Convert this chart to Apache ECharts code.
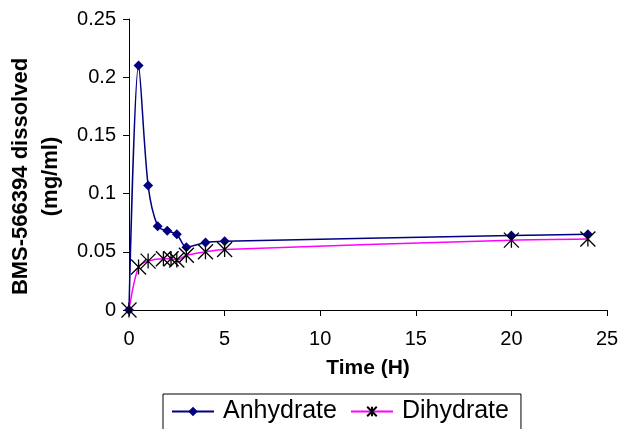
<!DOCTYPE html>
<html>
<head>
<meta charset="utf-8">
<script src="https://cdn.jsdelivr.net/npm/echarts@6/dist/echarts.min.js"></script>
<style>
  html, body { margin: 0; padding: 0; background: #fff; }
  #chart { width: 621px; height: 429px; }
</style>
</head>
<body>
<div id="chart"></div>
<script>
// values
const anhydrateTime = [0, 0.5, 1, 1.5, 2, 2.5, 3, 4, 5, 20, 24]
const anhydrateConc = [0, 0.21, 0.107, 0.072, 0.068, 0.065, 0.054, 0.058, 0.059, 0.064, 0.065]
const dihydrateTime = [0, 0.5, 1, 1.8, 2.2, 2.5, 3, 4, 5, 20, 24]
const dihydrateConc = [0, 0.037, 0.042, 0.044, 0.044, 0.043, 0.047, 0.05, 0.052, 0.06, 0.061]
const xTicks = { min: 0, max: 25, interval: 5 }
const yTicks = { min: 0, max: 0.25, interval: 0.05 }

const font = 'Liberation Sans, Arial, sans-serif'
const asterisk = 'path://M0,0L10,10M10,0L0,10M5,0L5,10'

function pairs(xs, ys) {
  return xs.map((x, i) => [x, ys[i]])
}

const chart = echarts.init(document.getElementById('chart'))
chart.setOption({
  animation: false,
  grid: { left: 129, right: 14, top: 19, bottom: 119, outerBoundsMode: 'none', containLabel: false },
  xAxis: {
    type: 'value',
    min: xTicks.min,
    max: xTicks.max,
    interval: xTicks.interval,
    name: 'Time (H)',
    nameLocation: 'middle',
    nameGap: 48,
    nameTextStyle: { fontFamily: font, fontSize: 21, fontWeight: 'bold', color: '#000' },
    axisLine: { lineStyle: { color: '#000', width: 1 } },
    axisTick: { length: 6, lineStyle: { color: '#000' } },
    axisLabel: { fontFamily: font, fontSize: 20, color: '#000', margin: 19 },
    splitLine: { show: false },
  },
  yAxis: {
    type: 'value',
    min: yTicks.min,
    max: yTicks.max,
    interval: yTicks.interval,
    name: 'BMS-566394 dissolved\n(mg/ml)',
    nameLocation: 'middle',
    nameGap: 63,
    nameTextStyle: {
      fontFamily: font,
      fontSize: 22,
      fontWeight: 'bold',
      color: '#000',
      lineHeight: 30,
      padding: [0, 24, 0, 0],
    },
    axisLine: { show: true, lineStyle: { color: '#000', width: 1 } },
    axisTick: { show: true, length: 6, lineStyle: { color: '#000' } },
    axisLabel: { fontFamily: font, fontSize: 20, color: '#000', margin: 13 },
    splitLine: { show: false },
  },
  legend: {
    left: 163,
    top: 394,
    padding: [5, 12, 12, 8],
    itemGap: 13,
    itemWidth: 42,
    itemHeight: 12,
    borderColor: '#000',
    borderWidth: 1,
    borderRadius: 0,
    textStyle: { fontFamily: font, fontSize: 25, color: '#000', padding: [0, 0, 0, 4] },
    data: ['Anhydrate', 'Dihydrate'],
  },
  series: [
    {
      name: 'Anhydrate',
      type: 'line',
      smooth: 0.3,
      clip: false,
      data: pairs(anhydrateTime, anhydrateConc),
      symbol: 'diamond',
      symbolSize: 10,
      lineStyle: { color: '#000080', width: 1.5 },
      itemStyle: { color: '#000080' },
    },
    {
      name: 'Dihydrate',
      type: 'line',
      smooth: 0.3,
      clip: false,
      data: pairs(dihydrateTime, dihydrateConc),
      symbol: asterisk,
      symbolSize: 15,
      lineStyle: { color: '#ff00ff', width: 1.5 },
      itemStyle: { color: 'none', borderColor: '#000', borderWidth: 1.3 },
    },
  ],
})
</script>
</body>
</html>
